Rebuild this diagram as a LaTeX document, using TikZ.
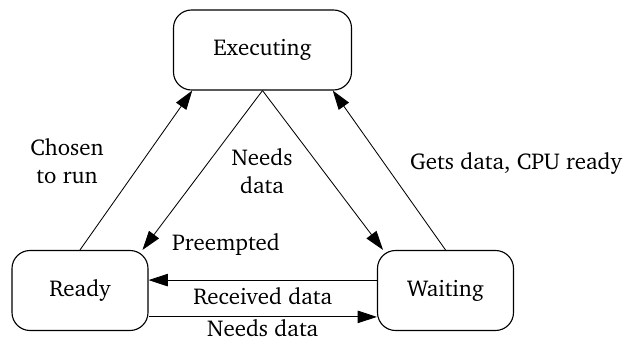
\documentclass[tikz,border=0pt]{standalone}
\usepackage[T1]{fontenc}
\usepackage{charter}
\usepackage{tikz}
\usetikzlibrary{arrows.meta,positioning,calc}

\begin{document}
\begin{tikzpicture}[>={Triangle[length=4.8mm,width=3.1mm]},
    state/.style={draw,line width=0.8pt,rounded corners=4.5mm,
        minimum width=3.4cm,minimum height=2cm,font=\fontsize{16.3}{20}\selectfont},
    trans/.style={->,line width=0.6pt},
    lbl/.style={font=\fontsize{16.3}{20}\selectfont,align=center}]
    % Fix the frame
    \useasboundingbox (0,0) rectangle (15.675,8.575);

    % Draw states
    \node[state,minimum width=4.45cm] (exec) at (6.5625,7.325) {Executing};
    \node[state] (ready) at (2.0,1.3125) {Ready};
    \node[state] (wait) at (11.1375,1.3125) {Waiting};

    % Draw transitions
    \draw[trans] (ready.north) -- (exec.210);
    \draw[trans] (exec.south) -- (ready.33);
    \draw[trans] (exec.south) -- (wait.147);
    \draw[trans] (wait.north) -- (exec.330);
    \draw[trans] ([yshift=0.26cm]wait.west) -- ([yshift=0.26cm]ready.east)
        node[lbl,midway,below=1.5pt] {Received data};
    \draw[trans] ([yshift=-0.66cm]ready.east) -- ([yshift=-0.66cm]wait.west)
        node[lbl,midway,below=0.5pt,inner ysep=1pt] {Needs data};

    % Draw labels
    \node[lbl] (chosen) at (1.675,4.55) {Chosen\\to run};
    \node[lbl] (needs) at (6.55,4.3) {Needs\\data};
    \node[lbl] (gets) at (12.9,4.5) {Gets data, CPU ready};
    \node[lbl] (preempt) at (5.65,2.475) {Preempted};
\end{tikzpicture}
\end{document}
